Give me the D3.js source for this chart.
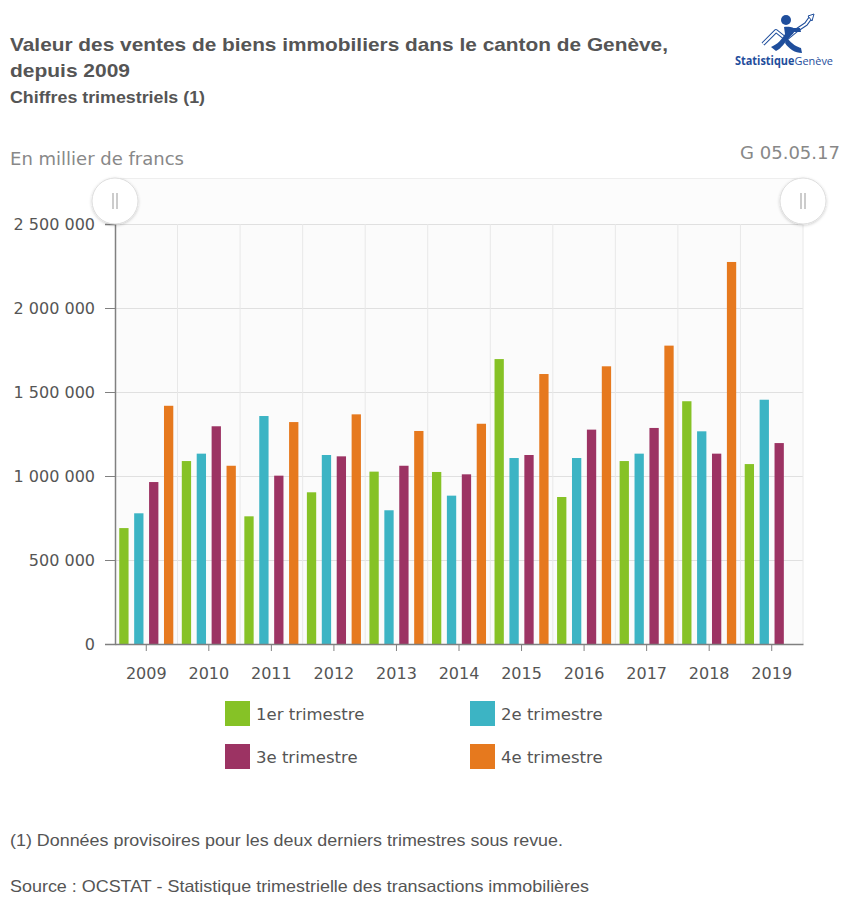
<!DOCTYPE html>
<html><head><meta charset="utf-8">
<script src="https://cdn.jsdelivr.net/npm/d3@7"></script>
<style>
html,body{margin:0;padding:0;background:#fff;}
svg{display:block;}
</style></head>
<body>
<svg id="chart" width="849" height="905"></svg>
<script>
const years = ["2009","2010","2011","2012","2013","2014","2015","2016","2017","2018","2019"];
const seriesNames = ["1er trimestre","2e trimestre","3e trimestre","4e trimestre"];
const seriesColors = ["#86c226","#3cb4c4","#9c3363","#e6791e"];
const q1 = [690000,1089000,760000,903000,1026000,1024000,1696000,875000,1089000,1445000,1071000];
const q2 = [778000,1133000,1357000,1125000,796000,883000,1107000,1107000,1133000,1266000,1454000];
const q3 = [964000,1296000,1002000,1117000,1061000,1010000,1125000,1276000,1286000,1133000,1196000];
const q4 = [1418000,1061000,1321000,1367000,1268000,1311000,1607000,1653000,1776000,2274000,null];
const yTicks = [0,500000,1000000,1500000,2000000,2500000];

const svg = d3.select("#chart");
const L = 115, R = 803, T = 224, B = 644;

const fmt = v => d3.format(",")(v).replace(/,/g, " ");
const ARIAL = "Liberation Sans, Arial, sans-serif";
const VERD = "DejaVu Sans, Verdana, sans-serif";

function txt(x, y, s, size, opts) {
  opts = opts || {};
  const t = svg.append("text").attr("x", x).attr("y", y)
    .attr("font-family", opts.family || ARIAL).attr("font-size", size)
    .attr("fill", opts.fill || "#555").text(s);
  if (opts.bold) t.attr("font-weight", "bold");
  if (opts.anchor) t.attr("text-anchor", opts.anchor);
  if (opts.len) t.attr("textLength", opts.len).attr("lengthAdjust", "spacingAndGlyphs");
  return t;
}

// Titles
txt(10, 51, "Valeur des ventes de biens immobiliers dans le canton de Genève,", 19, {bold:true, len:658});
txt(10, 77, "depuis 2009", 19, {bold:true, len:120});
txt(10, 103, "Chiffres trimestriels (1)", 16, {bold:true, len:195});

// Logo
const logo = svg.append("g");
logo.append("path").attr("d","M763,44 L776,31 L786,39 L797,30 L806,24 L811,17")
  .attr("fill","none").attr("stroke","#1f4e9c").attr("stroke-width",4).attr("stroke-linejoin","round");
logo.append("path").attr("d","M763,44 L776,31 L786,39 L797,30 L806,24 L811,17")
  .attr("fill","none").attr("stroke","#fff").attr("stroke-width",2).attr("stroke-linejoin","round");
logo.append("path").attr("d","M808,16 L814,14 L812,21 Z").attr("fill","#fff").attr("stroke","#1f4e9c").attr("stroke-width",1);
logo.append("circle").attr("cx",786).attr("cy",20).attr("r",5).attr("fill","#1f4e9c");
logo.append("path").attr("d","M784,27 C797,26 797,31 790,37 C784,43 782,48 776,51 L771,47 C778,44 781,40 785,34 Z")
  .attr("fill","#1f4e9c");
logo.append("path").attr("d","M787,38 C792,44 797,47 801,48 L802,53 C795,53 789,49 785,43 Z").attr("fill","#1f4e9c");
logo.append("path").attr("d","M790,28 L800,28 L801,32 L792,32 Z").attr("fill","#1f4e9c");
const lt = logo.append("text").attr("x",735).attr("y",65).attr("font-family","Open Sans, Noto Sans, sans-serif")
  .attr("font-size",11.5).attr("fill","#1f4e9c").attr("textLength",98).attr("lengthAdjust","spacingAndGlyphs");
lt.append("tspan").attr("font-weight","bold").text("Statistique");
lt.append("tspan").attr("font-weight","normal").text("Genève");

// Unit and code
txt(10, 165, "En millier de francs", 17, {family:VERD, fill:"#888", len:174});
txt(840, 159, "G 05.05.17", 17, {family:VERD, fill:"#888", anchor:"end", len:100});

// Scales
const x = d3.scaleBand().domain(years).range([L, R]).padding(0);
const xq = d3.scaleBand().domain(d3.range(4)).range([0, x.bandwidth()]).paddingInner(0.376).paddingOuter(0.285);
const y = d3.scaleLinear().domain([0, 2500000]).range([B, T]);

// Plot background
svg.append("rect").attr("x",L).attr("y",T).attr("width",R-L).attr("height",B-T).attr("fill","#fbfbfb");

// Horizontal gridlines
svg.append("g").selectAll("line").data(yTicks.slice(1)).join("line")
  .attr("x1",L).attr("x2",R).attr("y1",d=>y(d)+0.5).attr("y2",d=>y(d)+0.5)
  .attr("stroke","#e0e0e0").attr("stroke-width",1);
// Vertical gridlines (category boundaries)
svg.append("g").selectAll("line").data(years.slice(1).concat(["end"])).join("line")
  .attr("x1",d=>d==="end"?R:x(d)).attr("x2",d=>d==="end"?R:x(d)).attr("y1",T).attr("y2",B)
  .attr("stroke","#e8e8e8").attr("stroke-width",1);

// Slider band
svg.append("rect").attr("x",L).attr("y",178).attr("width",R-L).attr("height",46).attr("fill","#fcfcfc");
svg.append("line").attr("x1",L).attr("x2",R).attr("y1",178.5).attr("y2",178.5).attr("stroke","#eeeeee");

// Bars
const allSeries = [q1,q2,q3,q4];
const barsData = [];
years.forEach((yr,i)=>{ allSeries.forEach((s,k)=>{ if(s[i]!=null) barsData.push({yr, k, v:s[i]}); }); });
svg.append("g").selectAll("rect").data(barsData).join("rect")
  .attr("x",d=>x(d.yr)+xq(d.k)).attr("width",xq.bandwidth())
  .attr("y",d=>y(d.v)).attr("height",d=>y(0)-y(d.v))
  .attr("fill",d=>seriesColors[d.k]);

// Y axis
const yAxis = d3.axisLeft(y).tickValues(yTicks).tickFormat(fmt).tickSize(10).tickPadding(10);
const gy = svg.append("g").attr("transform",`translate(${L},0)`).call(yAxis);
gy.select(".domain").attr("stroke","#808080").attr("stroke-width",1.5);
gy.selectAll(".tick line").attr("stroke","#808080");
gy.selectAll("text").attr("font-family",VERD).attr("font-size",16).attr("fill","#555");

// X axis
const xAxis = d3.axisBottom(x).tickSize(7).tickPadding(17).tickSizeOuter(0);
const gx = svg.append("g").attr("transform",`translate(0,${B})`).call(xAxis);
gx.select(".domain").attr("stroke","#808080").attr("stroke-width",1.5);
gx.selectAll(".tick line").attr("stroke","#808080");
gx.selectAll("text").attr("font-family",VERD).attr("font-size",16).attr("fill","#555");

// Slider handles
const defs = svg.append("defs");
const f = defs.append("filter").attr("id","sh").attr("x","-50%").attr("y","-50%").attr("width","200%").attr("height","200%");
f.append("feDropShadow").attr("dx",0).attr("dy",1).attr("stdDeviation",1.5).attr("flood-color","#000").attr("flood-opacity",0.2);
[L, R].forEach(cx=>{
  const g = svg.append("g");
  g.append("circle").attr("cx",cx).attr("cy",201).attr("r",23).attr("fill","#fff").attr("stroke","#dddddd").attr("filter","url(#sh)");
  g.append("line").attr("x1",cx-2).attr("x2",cx-2).attr("y1",193).attr("y2",209).attr("stroke","#aaa").attr("stroke-width",1.2);
  g.append("line").attr("x1",cx+2).attr("x2",cx+2).attr("y1",193).attr("y2",209).attr("stroke","#aaa").attr("stroke-width",1.2);
});

// Legend
const legendPos = [[225,701],[470,701],[225,744],[470,744]];
const legendLen = [110,134,103,134];
const lg = svg.append("g").selectAll("g").data(seriesNames).join("g")
  .attr("transform",(d,i)=>`translate(${legendPos[i][0]},${legendPos[i][1]})`);
lg.append("rect").attr("width",25).attr("height",25).attr("fill",(d,i)=>seriesColors[i]);
lg.append("text").attr("x",31).attr("y",19).attr("font-family",VERD)
  .attr("font-size",16.5).attr("fill","#555").text(d=>d);

// Footnotes
txt(10, 846, "(1) Données provisoires pour les deux derniers trimestres sous revue.", 16.5, {len:553});
txt(10, 892, "Source : OCSTAT - Statistique trimestrielle des transactions immobilières", 16.5, {len:579});
</script>
</body></html>
